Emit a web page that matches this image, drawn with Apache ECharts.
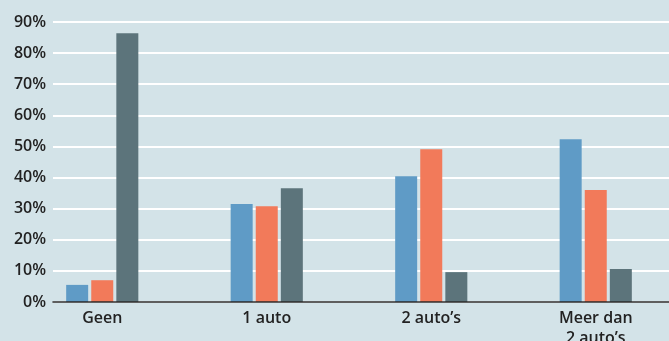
<!DOCTYPE html>
<html><head><meta charset="utf-8">
<script src="https://cdn.jsdelivr.net/npm/echarts@6/dist/echarts.min.js"></script>
<style>html,body{margin:0;padding:0;background:#d3e3e8;}#c{width:669px;height:341px;}</style>
</head><body><div id="c"></div>
<script>
const categories = ['Geen', '1 auto', "2 auto\u2019s", "Meer dan\n2 auto\u2019s"];
const seriesBlue = [5.5, 31.5, 40.4, 52.3];
const seriesOrange = [7.0, 30.8, 49.1, 36.0];
const seriesDark = [86.4, 36.6, 9.6, 10.6];
const yTicks = [0, 10, 20, 30, 40, 50, 60, 70, 80, 90];

const font = '"Open Sans", sans-serif';
const chart = echarts.init(document.getElementById('c'), null, {renderer: 'canvas'});
const yMin = yTicks[0], yMax = yTicks[yTicks.length - 1], yStep = yTicks[1] - yTicks[0];
const mkBar = (data, color) => ({
  type: 'bar', xAxisIndex: 1, yAxisIndex: 1, data: data, barWidth: 22, barGap: '14%',
  itemStyle: {color: color}, silent: true, animation: false
});
chart.setOption({
  backgroundColor: '#d3e3e8',
  animation: false,
  grid: [
    {left: 53, right: 0, top: 22, bottom: 39, containLabel: false, outerBoundsMode: 'none'},
    {left: 20, width: 658, top: 22, bottom: 39, containLabel: false, outerBoundsMode: 'none'}
  ],
  xAxis: [
    {type: 'category', gridIndex: 0, data: categories, axisLabel: {show: false}, axisTick: {show: false},
     axisLine: {show: true, lineStyle: {color: '#2a2a2a', width: 1.5}}, z: 10},
    {type: 'category', gridIndex: 1, data: categories, axisTick: {show: false}, axisLine: {show: false},
     axisLabel: {color: '#222', fontFamily: font, fontSize: 16, fontWeight: 600, margin: 6, lineHeight: 20}}
  ],
  yAxis: [
    {type: 'value', gridIndex: 0, min: yMin, max: yMax, interval: yStep,
     axisLine: {show: false}, axisTick: {show: false},
     axisLabel: {color: '#222', fontFamily: font, fontSize: 16, fontWeight: 600, margin: 7, formatter: '{value}%'},
     splitLine: {show: true, lineStyle: {color: '#ffffff', width: 2}}},
    {type: 'value', gridIndex: 1, min: yMin, max: yMax, interval: yStep, show: false,
     splitLine: {show: false}}
  ],
  series: [
    mkBar(seriesBlue, '#5f9bc6'),
    mkBar(seriesOrange, '#f27a5a'),
    mkBar(seriesDark, '#5c747b')
  ]
});
</script></body></html>
